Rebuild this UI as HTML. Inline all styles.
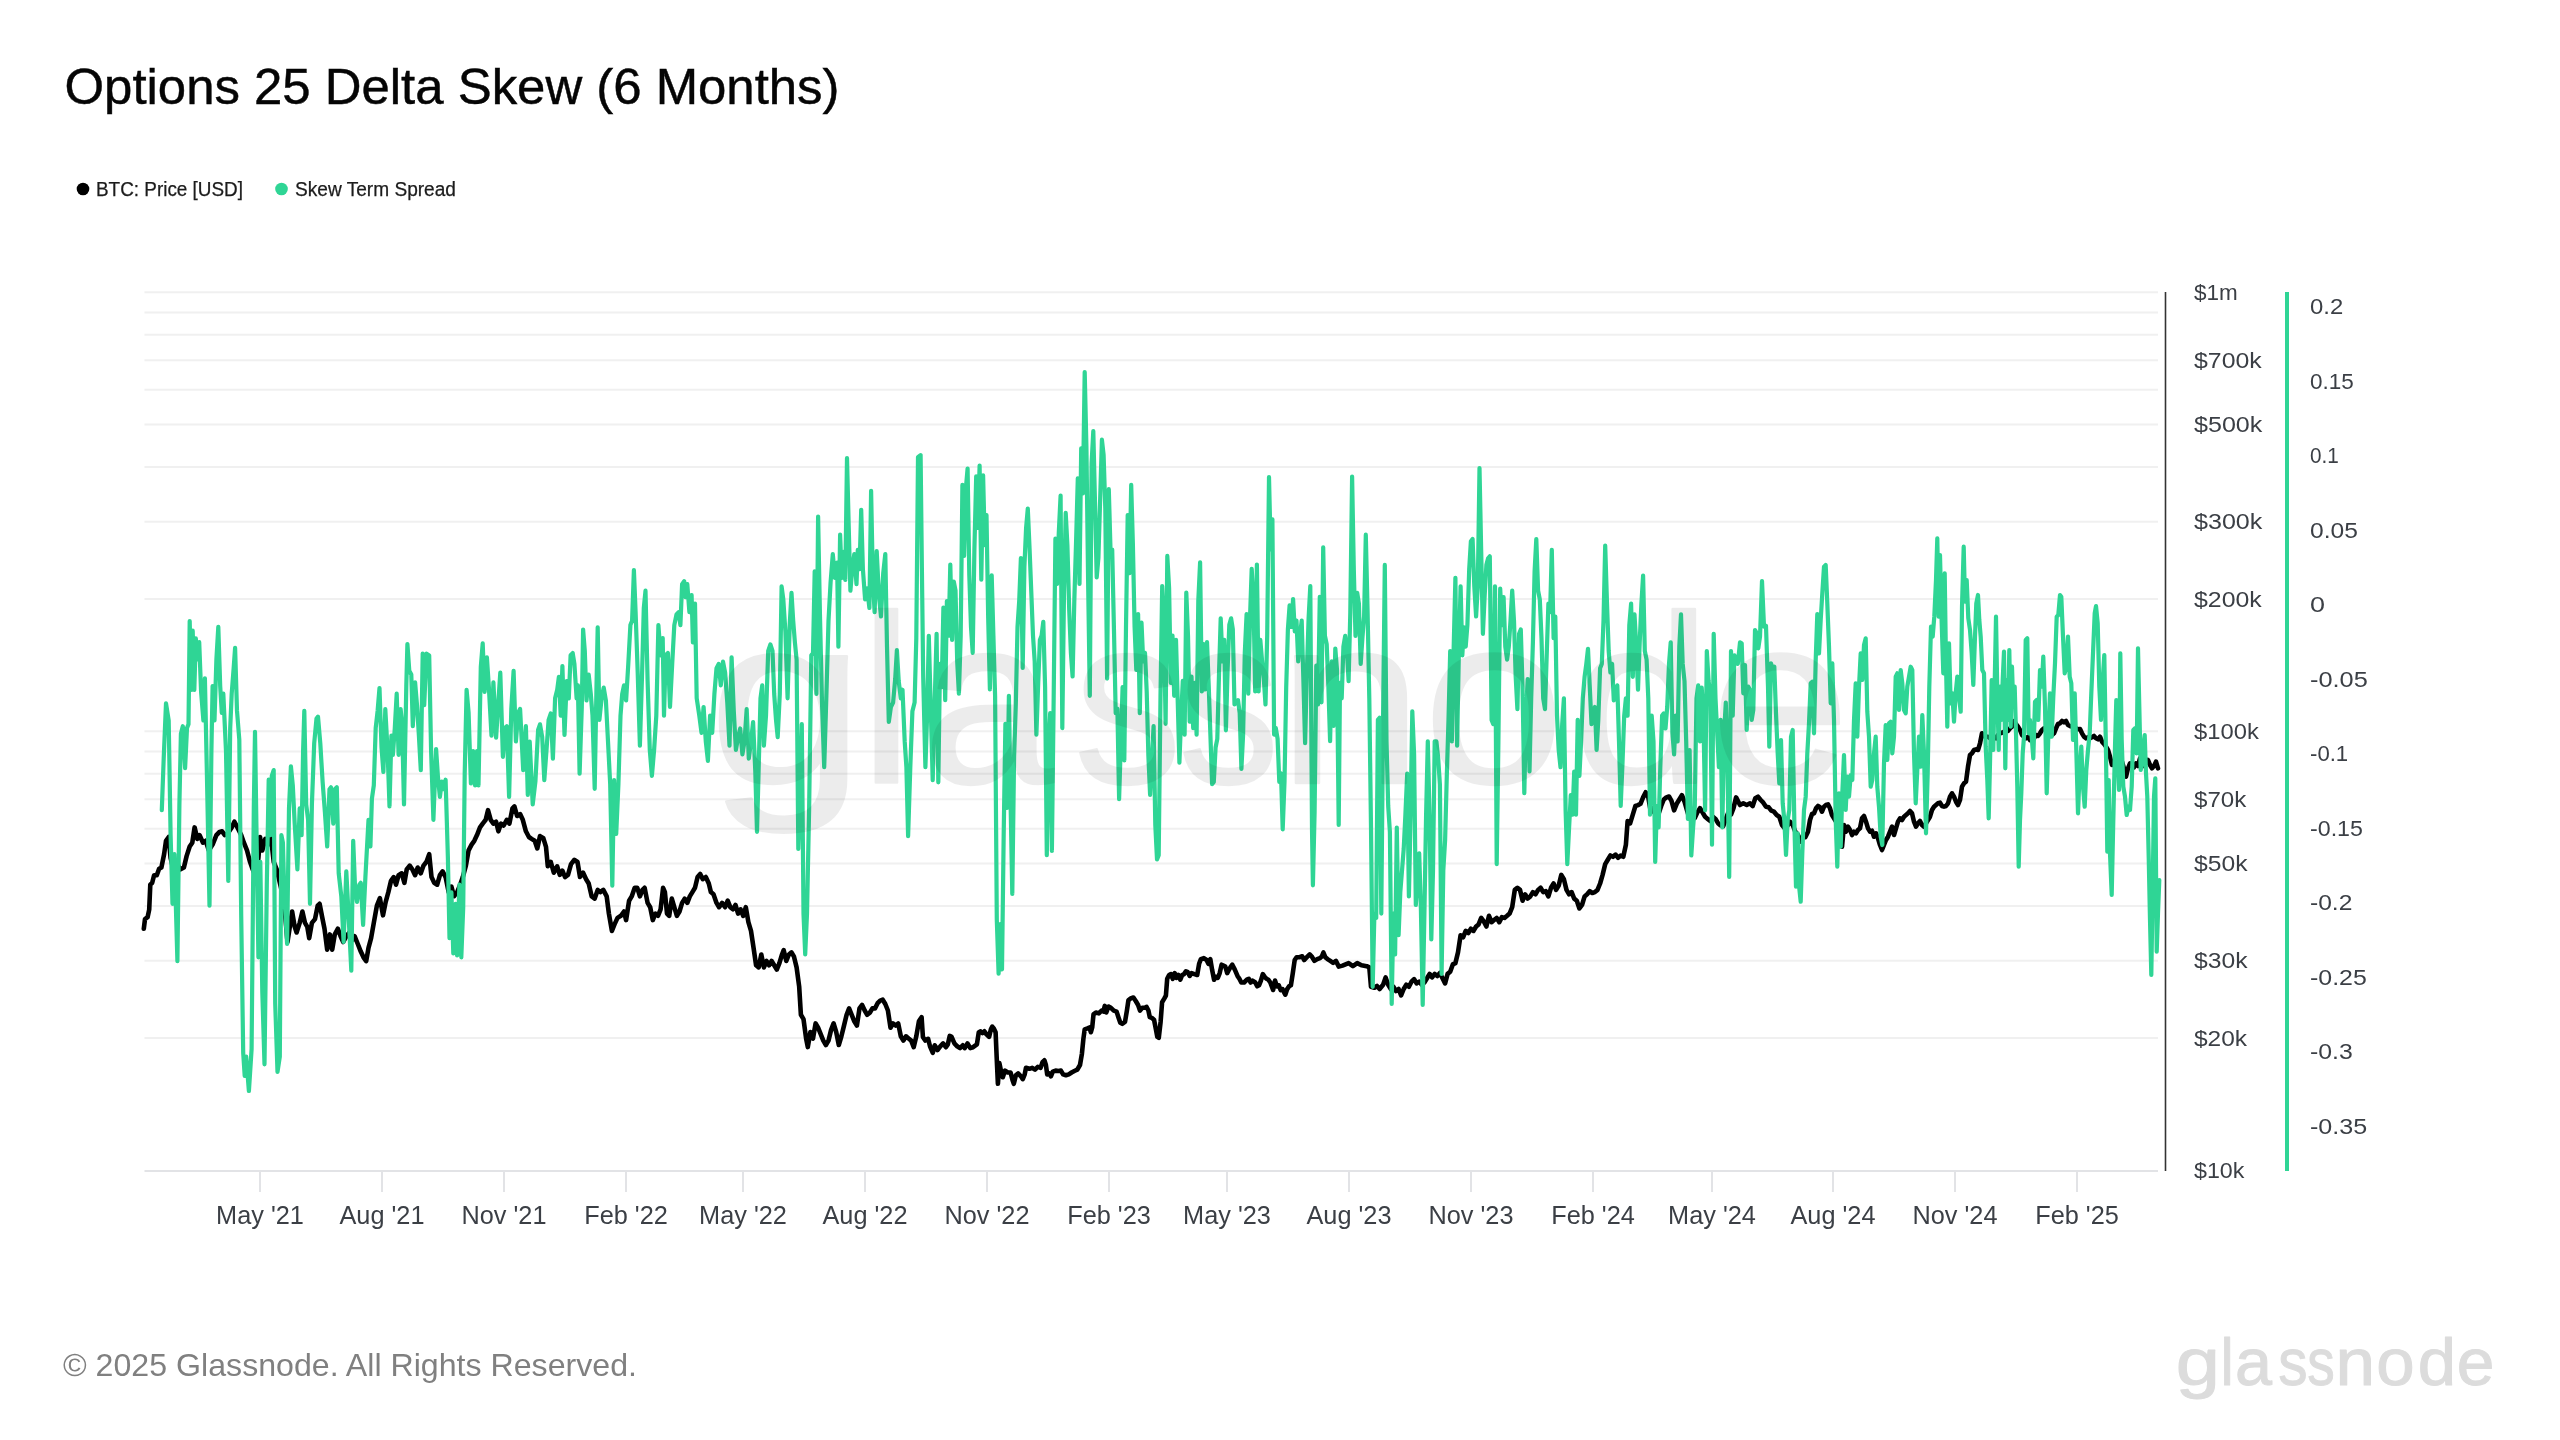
<!DOCTYPE html>
<html><head><meta charset="utf-8"><title>Options 25 Delta Skew (6 Months)</title>
<style>
html,body{margin:0;padding:0;background:#fff;}
body{width:2560px;height:1440px;overflow:hidden;position:relative;font-family:"Liberation Sans",sans-serif;}
svg{position:absolute;left:0;top:0;will-change:transform;}
text{font-family:"Liberation Sans",sans-serif;}
</style></head><body>
<svg width="2560" height="1440" viewBox="0 0 2560 1440">
<rect width="2560" height="1440" fill="#fff"/>
<text x="64.5" y="104" font-size="49.5" fill="#050505" stroke="#050505" stroke-width="0.45" textLength="775" lengthAdjust="spacingAndGlyphs">Options 25 Delta Skew (6 Months)</text>
<circle cx="83" cy="189" r="6.3" fill="#000"/>
<text x="96" y="196" font-size="19.5" fill="#1c1c1c" stroke="#1c1c1c" stroke-width="0.25" textLength="147" lengthAdjust="spacingAndGlyphs">BTC: Price [USD]</text>
<circle cx="281.5" cy="189" r="6.3" fill="#2fd595"/>
<text x="295" y="196" font-size="19.5" fill="#1c1c1c" stroke="#1c1c1c" stroke-width="0.25" textLength="161" lengthAdjust="spacingAndGlyphs">Skew Term Spread</text>
<g stroke="#f0f0f0" stroke-width="2"><line x1="144.5" x2="2158" y1="1038.1" y2="1038.1"/><line x1="144.5" x2="2158" y1="960.8" y2="960.8"/><line x1="144.5" x2="2158" y1="906.0" y2="906.0"/><line x1="144.5" x2="2158" y1="863.5" y2="863.5"/><line x1="144.5" x2="2158" y1="828.7" y2="828.7"/><line x1="144.5" x2="2158" y1="799.3" y2="799.3"/><line x1="144.5" x2="2158" y1="773.8" y2="773.8"/><line x1="144.5" x2="2158" y1="751.4" y2="751.4"/><line x1="144.5" x2="2158" y1="731.3" y2="731.3"/><line x1="144.5" x2="2158" y1="599.1" y2="599.1"/><line x1="144.5" x2="2158" y1="521.8" y2="521.8"/><line x1="144.5" x2="2158" y1="467.0" y2="467.0"/><line x1="144.5" x2="2158" y1="424.5" y2="424.5"/><line x1="144.5" x2="2158" y1="389.7" y2="389.7"/><line x1="144.5" x2="2158" y1="360.3" y2="360.3"/><line x1="144.5" x2="2158" y1="334.8" y2="334.8"/><line x1="144.5" x2="2158" y1="312.4" y2="312.4"/><line x1="144.5" x2="2158" y1="292.3" y2="292.3"/></g>
<line x1="144.5" x2="2158" y1="1171" y2="1171" stroke="#e2e3e6" stroke-width="2"/>
<g stroke="#e2e3e6" stroke-width="2"><line x1="260" x2="260" y1="1171" y2="1192"/><line x1="382" x2="382" y1="1171" y2="1192"/><line x1="504" x2="504" y1="1171" y2="1192"/><line x1="626" x2="626" y1="1171" y2="1192"/><line x1="743" x2="743" y1="1171" y2="1192"/><line x1="865" x2="865" y1="1171" y2="1192"/><line x1="987" x2="987" y1="1171" y2="1192"/><line x1="1109" x2="1109" y1="1171" y2="1192"/><line x1="1227" x2="1227" y1="1171" y2="1192"/><line x1="1349" x2="1349" y1="1171" y2="1192"/><line x1="1471" x2="1471" y1="1171" y2="1192"/><line x1="1593" x2="1593" y1="1171" y2="1192"/><line x1="1712" x2="1712" y1="1171" y2="1192"/><line x1="1833" x2="1833" y1="1171" y2="1192"/><line x1="1955" x2="1955" y1="1171" y2="1192"/><line x1="2077" x2="2077" y1="1171" y2="1192"/></g>
<polyline fill="none" stroke="#000" stroke-width="4.6" stroke-linejoin="round" stroke-linecap="round" points="143.8,928.7 145.0,919.1 147.6,917.2 149.2,909.6 150.3,884.7 152.2,882.8 154.1,875.2 156.8,875.2 159.1,868.7 161.4,867.5 164.1,854.2 166.0,840.8 168.7,837.0 170.6,858.0 172.5,865.6 176.3,861.8 180.1,869.5 183.9,867.5 186.6,856.1 189.7,846.5 192.3,842.7 194.6,827.4 197.3,838.9 199.6,835.1 203.0,842.7 205.7,840.8 208.8,850.4 212.6,844.6 216.4,835.1 219.5,832.0 222.1,831.3 224.8,835.1 227.9,833.2 231.7,827.4 234.4,821.7 237.4,827.4 241.2,835.1 243.9,842.7 247.0,850.4 250.0,861.8 252.7,869.5 255.8,877.1 258.4,858.0 260.0,837.0 262.3,850.4 265.3,838.9 268.0,844.6 270.7,835.1 273.7,861.8 276.8,869.5 279.4,880.9 282.1,892.4 285.2,915.3 287.5,942.0 289.8,926.8 292.1,911.5 294.7,926.8 296.6,932.5 299.7,922.9 302.4,911.5 305.0,922.9 307.3,926.8 309.2,938.2 311.9,922.9 315.0,919.1 317.7,905.7 319.6,903.8 322.2,917.2 324.5,928.7 327.2,949.7 329.9,934.4 332.2,949.7 334.8,934.4 337.9,928.7 340.6,936.3 343.2,942.0 346.3,936.3 349.4,932.5 352.0,940.1 354.7,936.3 357.8,944.0 360.8,951.6 363.5,957.3 366.2,961.1 368.5,947.8 371.1,938.2 373.8,922.9 376.9,905.7 379.9,898.1 383.0,915.3 385.7,901.9 388.3,892.4 391.0,880.9 393.7,877.1 396.0,884.7 398.6,875.2 401.7,873.3 404.4,882.8 406.7,869.5 409.7,865.6 412.4,869.5 415.1,875.2 417.7,867.5 420.8,873.3 423.5,865.6 426.5,861.8 429.2,854.2 431.5,877.1 434.2,882.8 437.2,884.7 439.9,875.2 442.6,871.4 445.6,877.1 448.7,892.4 451.4,886.6 454.0,896.2 457.1,892.4 460.2,884.7 462.8,877.1 465.9,865.6 468.6,850.4 471.6,844.6 474.3,840.8 477.0,835.1 480.0,827.4 482.7,823.6 485.7,819.8 488.0,810.2 490.7,819.8 493.4,823.6 496.1,821.7 498.4,831.3 501.0,823.6 503.7,825.5 506.8,819.8 509.4,823.6 512.5,808.3 514.4,806.4 517.1,816.0 520.1,814.1 522.8,819.8 525.9,831.3 528.9,837.0 531.6,838.9 534.7,840.8 537.3,848.4 540.0,836.1 543.4,838.3 546.0,846.9 547.8,866.3 550.8,862.0 553.8,872.7 557.2,866.3 559.8,874.9 562.4,870.6 565.0,877.0 568.0,874.9 571.0,864.1 574.4,859.8 577.5,862.0 580.0,877.0 583.1,872.7 586.1,879.2 588.7,883.5 591.7,896.4 594.7,898.6 597.7,889.9 600.3,892.1 603.3,889.9 606.7,896.4 608.9,913.6 611.9,930.9 614.5,924.4 617.5,917.9 620.9,915.8 624.0,911.5 626.1,920.1 629.1,900.7 631.7,896.4 634.7,887.8 637.3,887.8 639.9,896.4 642.5,889.9 644.6,887.8 647.6,902.9 650.2,907.2 652.8,920.1 655.4,913.6 658.0,915.8 660.6,909.3 663.1,887.8 664.9,892.1 667.0,913.6 669.2,915.8 671.8,898.6 674.3,907.2 676.9,915.8 679.5,911.5 682.1,902.9 684.7,898.6 687.3,902.9 689.8,896.4 692.4,892.1 695.0,887.8 697.6,877.0 700.2,874.0 702.8,879.2 705.8,877.0 708.8,883.5 710.9,892.1 713.5,894.3 716.5,902.9 719.1,907.2 722.1,902.9 725.1,907.2 727.7,900.7 730.3,907.2 732.9,909.3 735.5,905.0 738.1,913.6 740.6,909.3 743.2,915.8 745.8,907.2 748.4,922.2 751.0,930.9 753.6,948.1 756.1,965.3 758.7,967.4 761.3,954.5 763.9,967.4 766.5,961.0 769.1,965.3 771.6,961.0 774.2,965.3 776.8,969.6 779.4,963.1 782.0,954.5 783.7,950.2 786.3,961.0 788.9,954.5 791.5,952.4 794.0,956.7 796.6,967.4 799.2,986.8 800.9,1014.8 803.5,1019.1 806.1,1038.5 807.8,1047.1 810.4,1032.0 813.0,1038.5 815.6,1023.4 818.1,1027.7 820.7,1034.2 823.3,1040.6 825.9,1045.0 828.5,1040.6 831.1,1029.9 833.6,1023.4 836.2,1032.0 838.8,1045.0 841.4,1036.3 844.0,1025.6 846.6,1014.8 849.1,1008.4 851.7,1014.8 854.3,1021.3 856.9,1025.6 859.5,1008.4 862.1,1004.9 864.7,1010.5 867.2,1014.8 869.8,1012.7 872.4,1008.4 875.0,1008.4 877.6,1003.2 880.2,1000.6 882.7,999.7 885.3,1004.0 887.9,1010.5 890.5,1027.7 893.1,1023.4 895.7,1025.6 898.2,1023.4 900.8,1036.3 903.4,1040.6 906.0,1036.3 908.6,1038.5 911.2,1040.6 913.7,1047.1 916.3,1036.3 918.9,1021.3 921.6,1017.2 922.9,1036.9 925.3,1040.6 928.1,1038.8 930.0,1046.3 932.8,1052.8 934.7,1045.3 937.5,1050.0 940.3,1046.3 943.1,1043.4 945.9,1047.2 947.8,1044.4 949.7,1035.9 951.6,1036.9 954.4,1043.4 957.2,1046.3 960.0,1048.1 962.8,1045.3 964.7,1048.1 967.5,1043.4 970.3,1048.1 973.1,1047.2 976.9,1044.4 978.8,1032.2 980.6,1031.3 982.5,1033.1 984.4,1031.3 986.3,1034.1 989.1,1036.9 990.9,1029.4 992.3,1026.6 993.8,1028.4 995.6,1032.2 996.6,1055.6 997.9,1083.8 999.4,1063.1 1001.3,1072.5 1002.8,1077.2 1005.0,1070.6 1007.8,1072.5 1010.6,1072.5 1012.5,1080.0 1013.8,1083.8 1015.9,1075.3 1018.1,1073.4 1020.9,1076.3 1022.8,1079.1 1024.7,1074.4 1026.0,1067.8 1029.4,1068.8 1032.2,1067.8 1035.0,1069.7 1037.8,1066.9 1040.6,1067.8 1042.5,1062.2 1044.4,1060.3 1045.9,1065.0 1047.2,1074.4 1049.1,1073.4 1050.9,1076.3 1052.8,1071.6 1055.6,1070.6 1058.4,1071.0 1060.9,1070.6 1063.1,1074.4 1065.9,1075.3 1068.8,1074.4 1071.6,1072.5 1074.4,1071.0 1077.2,1069.7 1080.0,1065.0 1081.9,1053.8 1083.4,1038.8 1084.7,1029.4 1087.5,1028.4 1089.4,1027.5 1090.9,1032.2 1092.2,1027.5 1093.5,1014.4 1095.9,1012.5 1098.8,1013.4 1101.6,1010.6 1103.4,1011.6 1104.8,1005.9 1106.3,1012.5 1108.5,1006.5 1110.9,1007.8 1113.8,1010.6 1116.6,1011.6 1118.4,1017.2 1120.3,1022.8 1122.2,1023.8 1125.0,1021.9 1126.9,1010.6 1128.4,1000.3 1130.6,998.4 1133.4,997.5 1135.9,1001.3 1138.1,1005.0 1140.0,1010.6 1142.3,1007.8 1144.7,1007.8 1146.6,1006.9 1148.4,1010.6 1149.8,1017.2 1152.2,1018.1 1154.1,1020.0 1155.9,1029.4 1157.3,1036.9 1158.8,1037.8 1160.6,1021.9 1162.1,1002.2 1164.4,998.4 1165.9,995.6 1167.2,978.8 1169.1,975.0 1170.9,974.1 1172.8,978.8 1174.7,973.1 1176.6,977.8 1178.4,975.0 1180.3,979.7 1182.2,975.0 1184.1,974.1 1185.9,971.3 1187.8,972.2 1189.7,975.9 1191.6,973.1 1194.4,974.1 1197.2,975.0 1199.1,963.8 1200.9,959.1 1203.8,958.1 1206.6,960.0 1208.4,963.8 1210.3,959.1 1212.2,970.3 1214.1,979.7 1215.9,976.9 1217.8,977.8 1219.7,973.1 1221.6,964.7 1223.4,965.6 1225.3,966.6 1227.2,973.1 1229.1,969.4 1230.9,966.6 1232.3,964.7 1234.7,969.4 1237.5,975.9 1239.4,978.8 1241.3,982.5 1244.1,982.5 1246.9,979.7 1248.8,978.8 1250.6,982.5 1252.5,980.6 1255.3,982.5 1257.2,986.3 1259.1,985.3 1260.9,980.6 1262.8,974.1 1264.7,976.9 1266.6,978.8 1268.4,979.7 1270.3,982.5 1273.1,990.0 1275.0,980.6 1276.9,986.3 1278.8,985.3 1280.6,990.0 1282.5,989.1 1285.3,994.7 1287.2,989.1 1289.1,986.3 1290.9,985.3 1292.8,973.1 1294.7,960.0 1296.6,957.2 1299.4,957.2 1302.2,956.3 1304.1,960.0 1306.9,957.2 1309.7,954.4 1311.6,956.3 1314.4,960.9 1317.2,959.1 1320.0,958.1 1321.9,956.3 1323.4,952.5 1325.3,957.2 1327.5,959.1 1330.3,960.9 1333.1,962.8 1335.9,960.9 1338.8,966.6 1342.5,965.6 1348.6,963.1 1352.9,966.2 1357.2,963.1 1361.5,965.3 1366.7,966.2 1369.3,967.4 1371.0,986.8 1374.4,987.7 1377.0,986.0 1379.6,989.0 1383.1,984.7 1385.6,977.4 1388.2,984.7 1390.8,989.0 1393.4,986.8 1396.0,991.1 1398.6,989.0 1401.1,995.4 1403.7,989.0 1406.3,984.7 1408.9,986.8 1411.5,981.7 1414.1,979.1 1416.6,983.4 1419.2,981.7 1421.8,984.7 1424.4,982.5 1427.0,978.2 1429.6,973.9 1432.1,977.4 1434.7,973.9 1437.3,976.1 1439.9,973.0 1442.5,978.2 1445.1,983.4 1447.6,973.9 1450.2,971.8 1452.8,964.4 1455.4,963.1 1458.0,952.4 1460.6,935.2 1463.1,937.3 1465.7,930.9 1468.3,933.0 1470.9,928.7 1473.5,930.9 1476.1,926.5 1478.6,924.4 1481.2,917.9 1483.8,921.4 1486.4,926.5 1489.0,915.8 1491.6,922.2 1494.1,920.1 1496.7,917.9 1499.3,922.2 1501.9,917.1 1504.5,917.9 1507.1,915.8 1509.6,913.6 1512.2,907.2 1514.8,889.9 1517.4,887.8 1520.0,889.9 1522.6,900.7 1525.1,894.3 1527.7,898.6 1530.3,896.4 1532.9,892.1 1535.5,894.3 1538.1,889.9 1540.6,887.8 1543.2,892.1 1545.8,891.2 1548.4,896.4 1551.0,887.8 1553.6,883.5 1556.1,889.9 1558.7,885.6 1561.3,874.9 1563.9,879.2 1566.5,889.9 1569.1,894.3 1571.6,892.1 1574.2,898.6 1576.8,900.7 1579.4,908.5 1582.0,905.0 1584.6,896.4 1587.1,894.3 1589.7,891.2 1592.3,893.0 1594.9,892.1 1597.5,889.9 1600.1,883.5 1602.6,874.9 1605.2,864.1 1607.8,859.8 1610.4,855.5 1613.0,856.8 1615.6,854.6 1618.1,857.7 1620.7,855.5 1623.3,856.8 1625.9,844.7 1627.6,821.1 1630.2,823.2 1632.8,814.6 1635.4,806.0 1638.0,805.1 1640.5,803.8 1643.1,797.4 1645.7,792.2 1648.3,797.4 1650.9,812.4 1653.5,808.1 1656.0,810.3 1658.6,813.7 1661.2,806.0 1663.8,799.5 1666.4,797.4 1669.0,796.5 1671.5,800.8 1674.1,810.3 1676.7,803.8 1679.3,799.5 1681.9,795.2 1684.5,801.7 1687.0,810.3 1689.6,818.9 1692.2,814.6 1694.8,818.0 1697.4,812.4 1700.0,808.1 1702.5,812.4 1705.1,816.7 1707.7,818.9 1710.3,821.1 1712.9,816.7 1715.5,818.9 1718.0,823.2 1720.6,825.4 1723.2,826.2 1725.8,818.9 1728.4,812.4 1731.0,814.6 1733.5,808.1 1736.1,797.4 1740.0,805.0 1743.3,803.3 1746.7,805.0 1750.0,803.3 1752.7,806.0 1755.3,798.3 1758.0,796.7 1760.7,800.0 1763.3,802.7 1766.0,806.7 1768.7,807.3 1771.3,810.7 1774.0,811.7 1776.7,815.0 1779.3,816.7 1782.0,825.0 1784.7,828.3 1787.3,826.0 1790.0,821.7 1792.7,825.0 1795.3,831.7 1798.0,835.0 1800.0,841.7 1802.7,836.7 1805.3,837.3 1808.0,831.7 1810.0,820.0 1812.0,814.0 1814.0,813.3 1816.0,808.3 1818.0,806.0 1820.0,807.3 1822.0,811.7 1824.0,806.7 1826.0,805.0 1828.0,804.3 1830.0,808.3 1832.0,815.0 1834.0,818.3 1836.0,821.7 1838.0,825.0 1840.0,831.7 1842.0,846.7 1844.0,825.0 1846.0,831.7 1848.0,826.7 1850.0,830.0 1852.0,835.0 1854.0,831.7 1856.0,833.3 1858.0,830.0 1860.0,828.3 1862.0,818.3 1864.0,816.0 1866.0,821.7 1868.0,828.3 1870.0,831.7 1872.0,830.7 1874.0,836.7 1876.0,833.3 1878.0,838.3 1880.0,845.0 1882.0,850.0 1884.0,845.0 1886.0,840.0 1888.0,836.7 1890.0,831.7 1892.0,826.7 1894.0,835.0 1896.0,828.3 1898.0,821.7 1900.0,818.3 1902.0,820.0 1904.0,816.7 1906.0,815.0 1908.0,813.3 1910.0,811.0 1912.0,813.3 1914.0,821.7 1916.0,826.7 1918.0,823.3 1920.0,821.0 1922.0,825.0 1924.0,826.7 1926.0,823.3 1928.0,820.0 1930.0,816.7 1932.0,810.0 1934.0,806.7 1936.0,805.0 1938.0,803.3 1940.0,802.7 1942.0,806.0 1944.0,806.7 1946.0,806.0 1948.0,803.3 1950.0,796.7 1952.0,793.3 1954.0,796.7 1956.0,801.7 1958.0,805.0 1960.0,800.0 1962.0,786.7 1964.0,783.3 1966.0,781.7 1968.0,766.7 1970.0,755.0 1972.0,753.3 1974.0,750.0 1976.0,749.3 1978.0,750.0 1980.0,743.3 1982.0,733.3 1984.0,736.0 1986.0,736.7 1988.0,736.7 1990.0,738.3 1992.0,736.0 1994.0,736.7 1996.0,738.3 1998.0,735.0 2000.0,733.3 2002.0,732.7 2004.0,731.7 2006.0,730.0 2008.0,731.0 2010.0,728.3 2012.0,726.7 2014.0,721.0 2016.0,724.0 2018.0,726.7 2020.0,730.0 2022.0,735.0 2024.0,736.7 2026.0,738.3 2028.0,736.7 2030.0,740.0 2032.0,736.7 2034.0,738.3 2036.0,735.0 2038.0,736.0 2040.0,733.3 2042.0,730.0 2044.0,728.3 2046.0,729.3 2048.0,730.7 2050.0,733.3 2052.0,735.0 2054.0,733.3 2056.0,728.3 2058.0,724.0 2060.0,723.3 2062.0,721.0 2064.0,722.3 2066.0,721.0 2068.0,725.0 2070.0,726.0 2072.0,726.7 2074.0,727.3 2076.0,728.3 2078.0,729.3 2080.0,729.0 2082.0,733.3 2084.0,736.7 2086.0,738.3 2088.0,737.3 2090.0,738.3 2092.0,737.3 2094.0,736.0 2096.0,738.3 2098.0,739.3 2100.0,736.7 2102.0,741.7 2104.0,744.0 2106.0,746.7 2108.0,750.0 2110.0,756.7 2112.0,765.0 2114.0,763.3 2116.0,761.7 2118.0,758.3 2120.0,760.0 2122.0,761.7 2124.0,768.3 2126.0,776.7 2128.0,768.3 2130.0,763.3 2132.0,766.0 2134.0,767.3 2136.0,763.3 2138.0,766.0 2140.0,758.3 2142.0,765.0 2144.0,766.0 2146.0,762.7 2148.0,760.0 2150.0,765.0 2152.0,768.3 2154.0,766.0 2156.0,761.7 2158.0,768.3"/>
<polyline fill="none" stroke="#2fd595" stroke-width="4.2" stroke-linejoin="round" stroke-linecap="round" points="161.8,810.2 163.7,758.7 166.0,703.3 168.7,720.5 170.6,835.1 172.5,903.8 174.4,854.2 177.4,961.1 179.4,804.5 180.9,733.8 182.8,726.2 185.1,768.2 187.0,728.1 188.5,724.3 189.7,621.1 191.2,689.9 192.7,630.7 194.3,689.9 195.8,638.3 197.3,659.3 199.2,642.1 201.1,691.8 203.4,720.5 204.9,678.4 206.9,773.9 209.5,905.7 211.4,751.0 212.6,686.1 214.5,720.5 216.4,659.3 218.3,626.9 220.2,686.1 221.8,712.8 223.3,693.7 226.0,751.0 228.3,880.9 230.2,728.1 231.7,693.7 233.6,668.9 235.1,647.9 237.0,710.9 239.3,739.6 241.2,915.3 243.2,1052.8 244.7,1075.8 246.2,1056.7 248.9,1091.0 251.6,1049.0 253.8,808.3 255.0,731.9 256.9,858.0 258.4,957.3 260.3,861.8 262.3,991.7 264.5,1064.3 266.8,884.7 268.7,779.7 270.3,835.1 271.8,775.9 273.7,770.1 275.2,1003.2 277.5,1071.9 279.8,1056.7 281.4,835.1 282.9,842.7 284.4,896.2 287.1,944.0 289.0,808.3 290.9,766.3 292.8,785.4 294.7,823.6 297.4,869.5 299.7,808.3 301.6,835.1 303.1,751.0 304.3,710.9 306.2,804.5 308.1,819.8 310.0,903.8 311.9,804.5 314.2,743.4 316.5,718.5 318.0,716.6 320.3,743.4 322.6,781.6 324.9,812.1 327.2,846.5 329.5,789.2 331.0,787.3 333.3,823.6 334.8,789.2 336.8,787.3 338.7,873.3 341.3,896.2 343.6,942.0 346.3,871.4 348.2,907.7 351.3,970.7 353.2,840.8 355.1,888.6 357.0,901.9 359.3,884.7 360.8,882.8 363.1,924.9 365.4,877.1 368.5,819.8 370.4,846.5 371.9,798.8 373.8,785.4 375.7,728.1 377.6,710.9 379.5,688.0 381.5,747.2 383.4,772.0 385.3,709.0 387.6,751.0 389.5,806.4 391.4,735.7 392.9,754.8 394.8,728.1 396.7,693.7 398.6,754.8 400.6,709.0 402.1,724.3 404.0,804.5 406.3,686.1 407.4,644.0 409.3,670.8 411.3,674.6 412.8,726.2 415.1,682.3 417.0,705.2 418.9,735.7 420.8,770.1 422.7,653.6 424.2,705.2 426.5,653.6 429.2,655.5 431.1,751.0 433.4,819.8 436.1,749.1 438.0,777.8 439.9,796.9 441.8,781.6 443.7,789.2 445.6,779.7 447.9,858.0 449.5,938.2 451.4,892.4 453.3,953.5 455.6,903.8 457.1,955.4 459.4,884.7 461.3,957.3 463.2,907.7 464.7,773.9 466.6,689.9 468.6,712.8 470.9,783.5 473.1,751.0 475.1,785.4 477.0,751.0 478.5,785.4 480.8,667.0 482.7,643.3 484.6,691.8 486.9,657.4 488.8,686.1 491.5,735.7 493.4,682.3 496.1,737.7 498.4,701.4 500.3,672.7 502.9,756.8 504.9,728.1 506.8,726.2 509.1,796.9 511.3,709.0 513.6,670.8 515.9,741.5 518.2,712.8 520.1,709.0 523.2,770.1 525.9,726.2 527.8,795.0 529.7,741.5 532.7,804.5 535.4,781.6 538.1,730.0 540.0,724.3 542.2,737.1 544.3,780.2 546.5,750.0 548.6,719.9 550.8,713.4 552.9,758.6 555.1,698.3 557.2,689.7 558.9,676.8 560.7,715.6 562.4,666.0 564.5,734.9 566.7,681.1 568.8,698.3 570.6,655.3 572.7,653.1 574.4,663.9 576.6,698.3 577.9,685.4 579.6,773.7 581.8,707.0 583.1,629.5 584.8,651.0 586.5,700.5 588.7,674.7 590.8,694.0 592.5,715.6 594.7,788.8 596.4,691.9 597.7,627.3 599.4,719.9 601.6,698.3 603.7,687.6 605.9,700.5 608.0,741.4 610.2,784.5 612.3,885.6 614.1,780.2 616.2,834.0 618.4,784.5 620.5,715.6 622.2,694.0 624.0,685.4 626.1,700.5 628.3,663.9 630.4,625.1 632.1,620.8 633.9,570.0 635.6,612.2 637.7,672.5 639.9,745.7 642.0,676.8 643.8,607.9 645.5,590.7 647.6,681.1 649.8,750.0 651.9,775.8 654.1,750.0 656.3,715.6 658.4,625.1 660.6,655.3 662.7,638.1 664.0,715.6 665.7,655.3 667.9,653.1 670.0,707.0 672.2,663.9 674.3,625.1 676.5,614.4 678.6,612.2 680.4,625.1 682.1,584.2 684.2,581.2 685.5,597.2 687.3,584.2 689.4,612.2 691.6,595.0 692.9,642.4 695.0,603.6 696.7,698.3 699.3,715.6 701.5,732.8 703.6,707.0 705.8,741.4 707.9,760.8 710.1,715.6 712.2,732.8 714.4,694.0 716.5,668.2 718.7,663.9 720.8,685.4 723.0,661.7 725.1,672.5 727.3,702.6 729.5,745.7 731.6,657.4 733.8,711.3 735.9,750.0 738.1,737.1 740.2,728.5 742.4,754.3 744.5,741.4 746.7,709.1 748.8,758.6 751.0,741.4 753.1,722.0 755.3,771.5 757.0,831.8 758.7,767.2 760.5,698.3 762.2,685.4 763.9,745.7 766.0,715.6 768.2,651.0 770.4,644.5 772.5,651.0 774.2,694.0 776.0,719.9 777.7,737.1 779.8,694.0 781.6,586.4 783.3,599.3 785.4,631.6 787.6,698.3 789.7,625.1 791.5,592.9 793.2,620.8 794.9,642.4 796.6,659.6 798.3,849.0 800.1,793.1 801.8,724.2 803.5,913.6 805.2,954.5 807.0,913.6 809.1,810.3 811.3,655.3 813.0,653.1 814.7,571.3 816.4,694.0 818.1,516.6 819.9,612.2 822.0,702.6 824.2,767.2 826.3,698.3 828.5,620.8 830.6,582.1 832.8,554.1 834.9,577.8 837.1,562.7 838.4,646.7 840.1,534.7 841.8,577.8 843.6,551.9 845.3,579.9 847.0,458.1 848.7,526.1 850.4,590.7 852.2,569.2 854.3,554.1 856.5,584.2 857.8,549.8 859.5,569.2 861.2,509.8 862.9,569.2 865.1,599.3 867.2,588.5 869.4,607.9 871.1,490.8 872.8,577.8 874.6,612.2 876.7,551.1 878.9,595.0 881.0,616.5 883.2,573.5 885.3,554.1 887.0,646.7 888.8,722.0 890.9,707.0 893.1,702.6 895.2,679.0 896.9,650.1 898.7,681.1 900.8,698.3 902.5,689.7 904.7,741.4 906.4,767.2 908.1,836.1 910.3,767.2 912.4,711.3 914.6,702.6 916.3,638.1 918.0,457.2 920.6,455.1 921.9,569.2 923.2,676.8 925.4,767.2 927.1,715.6 928.8,635.9 930.5,698.3 932.7,780.2 934.8,698.3 936.6,633.8 938.3,782.3 940.0,663.9 941.7,687.2 943.4,607.6 945.2,700.2 946.9,601.1 948.6,635.6 950.3,564.5 952.1,639.9 953.8,581.7 955.5,590.4 957.2,661.4 958.9,693.7 960.7,635.6 962.4,484.9 964.1,555.9 965.8,489.2 967.6,468.5 969.3,575.3 971.0,627.0 972.7,652.8 974.4,549.5 976.2,476.3 977.9,527.9 979.6,465.5 981.3,579.6 983.1,475.4 984.8,545.1 986.5,515.0 988.2,618.3 989.9,689.4 991.7,575.3 993.4,635.6 995.1,695.8 996.8,919.7 998.6,973.6 1000.3,924.0 1002.0,969.3 1003.7,833.6 1005.4,723.8 1007.2,807.8 1008.9,695.8 1010.6,803.5 1012.3,893.9 1014.1,756.1 1015.8,704.5 1017.5,627.0 1019.2,601.1 1020.9,558.1 1022.7,667.9 1024.4,566.7 1026.1,527.9 1027.8,508.5 1029.6,549.5 1031.3,592.5 1033.0,635.6 1034.7,661.4 1036.4,734.6 1038.2,682.9 1039.9,639.9 1041.6,635.6 1043.3,621.8 1045.1,687.2 1046.8,855.2 1048.5,747.5 1050.2,713.1 1051.9,850.9 1053.7,695.8 1055.4,538.7 1057.1,583.9 1058.8,532.2 1060.6,495.6 1062.3,728.1 1064.0,592.5 1065.7,512.9 1067.4,545.1 1069.2,609.7 1070.9,652.8 1072.6,676.5 1074.3,601.1 1076.1,540.8 1077.8,478.4 1079.5,583.9 1081.2,448.3 1082.9,493.5 1084.7,372.1 1086.4,446.1 1088.1,579.6 1089.8,695.8 1091.6,463.3 1093.3,431.0 1095.0,502.1 1096.7,577.4 1098.4,558.1 1100.2,497.8 1101.9,439.7 1103.6,454.7 1105.3,508.5 1107.1,678.6 1108.8,489.2 1110.5,549.5 1112.2,549.5 1114.0,631.3 1115.7,713.1 1117.4,708.8 1119.1,799.2 1120.8,743.2 1122.6,687.2 1124.3,760.4 1126.0,627.0 1127.7,515.0 1129.5,573.1 1131.2,484.9 1132.9,545.1 1134.6,627.0 1136.3,670.0 1138.1,614.0 1139.8,713.1 1141.5,622.6 1143.2,661.4 1145.0,652.8 1146.7,691.5 1148.4,756.1 1150.1,794.9 1151.8,760.4 1153.6,726.0 1155.3,825.0 1157.0,859.5 1158.7,855.2 1160.5,695.8 1162.2,586.0 1163.9,622.6 1165.6,723.8 1167.3,555.9 1169.1,588.2 1170.8,682.9 1172.5,635.6 1174.2,695.8 1176.0,639.9 1177.7,700.2 1179.4,762.6 1181.1,717.4 1182.8,680.8 1184.6,734.6 1186.3,592.5 1188.0,635.6 1189.7,721.7 1191.5,676.5 1193.2,728.1 1194.9,682.9 1196.6,734.6 1198.3,601.1 1200.1,562.4 1201.8,691.5 1203.5,644.2 1205.2,689.4 1207.0,642.0 1208.7,685.1 1210.4,734.6 1212.1,784.1 1213.8,782.0 1215.6,747.5 1217.3,738.9 1219.0,674.3 1220.7,618.3 1222.5,661.4 1224.2,639.9 1225.9,730.3 1227.6,670.0 1229.3,624.8 1231.1,618.3 1232.8,629.1 1234.5,704.5 1236.2,702.3 1238.0,700.2 1239.7,713.1 1241.4,769.0 1243.1,734.6 1244.8,652.8 1246.6,614.0 1248.3,693.7 1250.0,618.3 1251.7,568.8 1253.5,601.1 1255.2,691.5 1256.9,564.5 1258.6,691.5 1260.3,639.9 1262.1,661.4 1263.8,678.6 1265.5,704.5 1267.2,635.6 1269.0,477.1 1270.7,549.5 1272.4,519.3 1274.1,734.6 1275.8,728.1 1277.6,738.9 1279.3,782.0 1281.0,773.3 1282.7,829.3 1284.5,782.0 1286.2,687.2 1287.9,629.1 1289.6,605.4 1291.3,627.0 1293.1,599.0 1294.8,631.3 1296.5,620.5 1298.2,661.4 1300.0,635.6 1301.7,620.5 1303.4,680.8 1305.1,743.2 1306.8,674.3 1308.6,618.3 1310.3,586.0 1312.0,829.3 1312.9,885.3 1314.6,812.1 1316.3,665.7 1318.0,704.5 1319.8,596.8 1321.5,702.3 1323.2,547.3 1324.9,635.6 1326.7,644.2 1328.4,687.2 1330.1,741.1 1331.8,661.4 1333.5,726.0 1335.3,648.5 1337.0,670.0 1338.7,825.0 1340.0,682.9 1341.7,698.3 1343.4,646.7 1345.2,635.9 1346.9,651.0 1348.6,681.1 1350.3,612.2 1352.1,476.6 1353.8,569.2 1355.5,635.9 1357.2,592.9 1358.9,603.6 1360.7,663.9 1362.4,638.1 1364.1,616.5 1365.8,534.7 1367.6,612.2 1369.3,698.3 1371.0,827.5 1372.7,986.8 1374.4,913.6 1376.2,917.9 1377.9,719.9 1379.6,717.7 1381.3,913.6 1383.1,715.6 1384.8,564.9 1386.5,741.4 1388.2,806.0 1389.9,831.8 1391.7,1004.0 1393.4,913.6 1395.1,954.5 1396.8,827.5 1398.6,935.2 1400.3,892.1 1402.0,870.6 1403.7,849.0 1405.4,814.6 1407.2,773.7 1408.9,896.4 1410.6,814.6 1412.3,711.3 1414.1,754.3 1415.8,905.0 1417.5,879.2 1419.2,853.3 1420.9,909.3 1422.7,1004.9 1424.4,913.6 1426.1,814.6 1427.8,741.4 1429.6,818.9 1431.3,939.5 1433.0,870.6 1434.7,741.4 1436.4,741.4 1438.2,758.6 1439.9,784.5 1441.6,973.9 1443.3,870.6 1445.1,840.4 1446.8,775.8 1448.5,719.9 1450.2,651.0 1451.9,741.4 1453.7,646.7 1455.4,577.8 1457.1,745.7 1458.8,655.3 1460.6,586.4 1462.3,655.3 1464.0,627.3 1465.7,646.7 1467.4,625.1 1469.2,569.2 1470.9,541.2 1472.6,539.0 1474.3,586.4 1476.1,616.5 1477.8,586.4 1479.5,468.0 1481.2,551.9 1482.9,633.8 1484.7,595.0 1486.4,564.9 1488.1,558.4 1489.8,556.3 1491.6,719.9 1493.3,724.2 1495.0,586.4 1496.7,864.1 1498.4,741.4 1500.2,588.5 1501.9,625.1 1503.6,597.2 1505.3,646.7 1507.1,659.6 1508.8,646.7 1510.5,620.8 1512.2,590.7 1514.0,620.8 1515.7,676.8 1517.4,709.1 1519.1,633.8 1520.8,629.5 1522.6,689.7 1524.3,793.1 1526.0,715.6 1527.7,679.0 1529.5,771.5 1531.2,698.3 1532.9,642.4 1534.6,571.3 1536.3,539.0 1538.1,590.7 1539.8,599.3 1541.5,638.1 1543.2,698.3 1545.0,709.1 1546.7,655.3 1548.4,603.6 1550.1,612.2 1551.8,549.8 1553.6,638.1 1555.3,616.5 1557.0,715.6 1558.7,750.0 1560.5,767.2 1562.2,724.2 1563.9,698.3 1565.6,810.3 1567.3,864.1 1569.1,827.5 1570.8,795.2 1572.5,814.6 1574.2,771.5 1576.0,814.6 1577.7,719.9 1579.4,775.8 1581.1,741.4 1582.8,698.3 1584.6,676.8 1586.3,663.9 1588.0,648.8 1589.7,685.4 1591.5,724.2 1593.2,715.6 1594.9,707.0 1596.6,750.0 1598.3,719.9 1600.1,668.2 1601.8,663.9 1603.5,620.8 1605.2,545.5 1607.0,603.6 1608.7,651.0 1610.4,672.5 1612.1,663.9 1613.8,700.5 1615.6,694.0 1617.3,685.4 1619.0,741.4 1620.7,806.0 1622.5,762.9 1624.2,715.6 1625.9,698.3 1627.6,715.6 1629.3,625.1 1631.1,603.6 1632.8,676.8 1634.5,614.4 1636.2,644.5 1638.0,689.7 1639.7,642.4 1641.4,603.6 1643.1,575.6 1644.8,651.0 1646.6,659.6 1648.3,698.3 1650.0,814.6 1651.7,715.6 1653.5,741.4 1655.2,862.0 1656.9,806.0 1658.6,827.5 1660.3,767.2 1662.1,715.6 1663.8,713.4 1665.5,728.5 1667.2,707.0 1669.0,663.9 1670.7,642.4 1672.4,732.8 1674.1,754.3 1675.8,715.6 1677.6,741.4 1679.3,646.7 1681.0,614.4 1682.7,663.9 1684.5,681.1 1686.2,741.4 1687.9,818.9 1689.6,750.0 1691.3,855.5 1693.1,827.5 1694.8,806.0 1696.5,698.3 1698.2,685.4 1700.0,741.4 1701.7,687.6 1703.4,715.6 1705.1,810.3 1706.8,651.0 1708.6,681.1 1710.3,694.0 1712.0,844.7 1713.7,633.8 1715.5,698.3 1717.2,732.8 1718.9,767.2 1720.6,719.9 1722.3,827.5 1724.1,732.8 1725.8,702.6 1727.5,767.2 1729.2,877.0 1731.0,651.0 1732.7,715.6 1734.4,655.3 1736.1,659.6 1737.8,663.9 1740.0,642.4 1741.7,643.3 1743.3,693.3 1745.0,665.0 1746.7,730.0 1748.3,686.7 1750.0,690.0 1751.7,720.0 1753.3,710.0 1755.0,630.0 1756.7,633.3 1758.3,648.3 1760.0,636.7 1762.0,581.0 1764.0,626.7 1766.0,626.0 1768.0,686.7 1769.3,746.7 1771.0,663.3 1772.7,670.0 1774.3,666.7 1776.0,713.3 1777.7,753.3 1779.3,783.3 1781.0,740.0 1782.7,803.3 1784.3,820.0 1786.0,855.0 1787.7,820.0 1789.3,810.0 1791.0,736.7 1792.7,730.0 1794.3,820.0 1796.0,886.7 1797.7,833.3 1799.3,888.3 1800.7,901.7 1802.3,853.3 1804.0,810.0 1805.7,796.7 1807.3,753.3 1809.0,723.3 1810.7,683.3 1812.3,681.7 1814.0,733.3 1815.7,660.0 1817.3,614.0 1819.0,653.3 1820.7,620.0 1822.3,593.3 1824.0,566.7 1825.7,565.0 1827.3,603.3 1829.0,646.7 1830.7,703.3 1832.3,663.3 1834.0,720.0 1835.7,820.0 1837.3,866.7 1839.0,793.3 1840.7,846.7 1842.3,793.3 1844.0,755.0 1845.7,810.0 1847.3,776.7 1849.0,796.7 1850.7,775.0 1852.3,780.0 1854.0,720.0 1855.7,683.3 1857.3,736.7 1859.0,686.7 1860.7,653.3 1862.3,680.0 1864.0,645.0 1865.7,638.3 1867.3,711.7 1869.0,736.7 1870.7,786.7 1872.3,780.0 1874.0,753.3 1875.7,736.7 1877.3,786.7 1879.0,806.7 1880.7,836.7 1882.3,845.0 1884.0,763.3 1885.7,725.0 1887.3,760.0 1889.0,723.3 1890.7,721.7 1892.3,753.3 1894.0,736.7 1895.7,676.7 1897.3,673.3 1899.0,710.0 1900.7,670.0 1902.3,683.3 1904.0,710.0 1905.7,713.3 1907.3,686.7 1909.0,676.7 1910.7,666.7 1912.3,670.0 1914.0,753.3 1915.7,803.3 1917.3,770.0 1919.0,736.7 1920.7,766.7 1922.3,715.0 1924.0,753.3 1926.0,833.3 1927.7,773.3 1929.3,686.7 1931.0,626.7 1932.7,636.7 1934.3,616.7 1936.0,580.0 1937.3,538.3 1938.7,616.7 1940.0,555.0 1941.7,623.3 1943.3,673.3 1944.7,573.3 1946.0,663.3 1947.3,726.7 1949.0,643.3 1950.7,703.3 1952.3,693.3 1954.0,721.7 1955.7,693.3 1957.3,676.7 1959.0,696.7 1960.7,711.7 1962.0,606.7 1963.7,546.7 1965.0,601.7 1966.7,580.0 1968.3,618.3 1970.0,630.0 1971.7,653.3 1973.3,685.0 1975.0,636.7 1976.3,603.3 1978.0,595.0 1979.3,620.0 1980.7,636.7 1982.3,670.0 1984.0,673.3 1985.7,746.7 1987.3,780.0 1988.7,818.3 1990.0,763.3 1991.7,680.0 1993.3,750.0 1994.7,683.3 1996.0,616.7 1997.3,693.3 1998.7,750.0 2000.0,686.7 2001.3,720.0 2002.7,680.0 2004.0,651.7 2005.3,768.3 2006.7,680.0 2008.0,720.0 2009.3,650.0 2010.7,726.7 2012.0,666.7 2013.3,706.7 2014.7,686.7 2016.0,733.3 2017.3,786.7 2018.7,866.7 2020.0,820.0 2021.3,793.3 2022.7,753.3 2024.0,736.7 2025.7,640.0 2027.3,638.3 2028.7,733.3 2030.0,720.0 2031.7,736.7 2033.3,758.3 2035.0,701.7 2036.7,700.0 2038.3,720.0 2040.0,670.0 2041.7,686.7 2043.3,656.7 2045.0,706.7 2046.7,793.3 2048.3,736.7 2050.0,693.3 2051.7,736.7 2053.3,696.7 2055.0,663.3 2056.7,616.7 2058.3,615.0 2060.0,595.0 2061.3,596.7 2063.0,636.7 2064.7,673.3 2066.3,666.7 2068.0,636.7 2069.7,676.7 2071.3,683.3 2073.0,740.0 2074.7,693.3 2076.3,750.0 2078.0,813.3 2079.7,770.0 2081.3,746.7 2083.0,786.7 2084.7,806.7 2086.3,770.0 2088.0,750.0 2089.7,733.3 2091.3,693.3 2093.0,653.3 2094.7,613.3 2096.0,606.0 2097.7,623.3 2099.3,686.7 2101.0,720.0 2102.7,680.0 2104.3,655.0 2106.0,753.3 2107.3,851.7 2108.7,780.0 2110.0,853.3 2111.7,895.0 2113.3,820.0 2115.0,746.7 2116.3,700.0 2117.7,753.3 2119.0,790.0 2120.3,653.3 2121.7,740.0 2123.3,786.7 2125.0,796.7 2126.7,815.0 2128.3,806.7 2130.0,810.0 2131.7,786.7 2133.3,730.0 2135.0,728.3 2136.7,753.3 2138.0,648.3 2139.3,706.7 2140.7,770.0 2142.0,763.3 2143.3,746.7 2144.7,735.0 2146.0,773.3 2147.3,796.7 2148.7,856.7 2150.0,920.0 2151.3,975.0 2152.7,886.7 2154.0,796.7 2155.3,778.3 2156.7,951.7 2158.0,913.3 2159.3,880.0"/>
<line x1="2165.5" x2="2165.5" y1="292" y2="1171" stroke="#333" stroke-width="1.6"/>
<line x1="2287" x2="2287" y1="292" y2="1171" stroke="#2fd595" stroke-width="4"/>
<g font-size="22.5" fill="#3b3f45"><text x="2194" y="299.8" textLength="43.7" lengthAdjust="spacingAndGlyphs">$1m</text><text x="2194" y="367.8" textLength="67.7" lengthAdjust="spacingAndGlyphs">$700k</text><text x="2194" y="432.0" textLength="68.3" lengthAdjust="spacingAndGlyphs">$500k</text><text x="2194" y="529.3" textLength="68.3" lengthAdjust="spacingAndGlyphs">$300k</text><text x="2194" y="606.6" textLength="67.7" lengthAdjust="spacingAndGlyphs">$200k</text><text x="2194" y="738.8" textLength="64.8" lengthAdjust="spacingAndGlyphs">$100k</text><text x="2194" y="806.8" textLength="52.3" lengthAdjust="spacingAndGlyphs">$70k</text><text x="2194" y="871.0" textLength="53.5" lengthAdjust="spacingAndGlyphs">$50k</text><text x="2194" y="968.3" textLength="53.5" lengthAdjust="spacingAndGlyphs">$30k</text><text x="2194" y="1045.6" textLength="53.1" lengthAdjust="spacingAndGlyphs">$20k</text><text x="2194" y="1177.8" textLength="50.4" lengthAdjust="spacingAndGlyphs">$10k</text></g>
<g font-size="22.5" fill="#3b3f45"><text x="2310.0" y="314.0" textLength="33.2" lengthAdjust="spacingAndGlyphs">0.2</text><text x="2310.0" y="388.5" textLength="43.8" lengthAdjust="spacingAndGlyphs">0.15</text><text x="2310.0" y="463.0" textLength="28.8" lengthAdjust="spacingAndGlyphs">0.1</text><text x="2310.0" y="537.5" textLength="47.9" lengthAdjust="spacingAndGlyphs">0.05</text><text x="2310.0" y="612.0" textLength="15.0" lengthAdjust="spacingAndGlyphs">0</text><text x="2310.0" y="686.5" textLength="57.8" lengthAdjust="spacingAndGlyphs">-0.05</text><text x="2310.0" y="761.0" textLength="38.2" lengthAdjust="spacingAndGlyphs">-0.1</text><text x="2310.0" y="835.5" textLength="52.9" lengthAdjust="spacingAndGlyphs">-0.15</text><text x="2310.0" y="910.0" textLength="42.4" lengthAdjust="spacingAndGlyphs">-0.2</text><text x="2310.0" y="984.5" textLength="56.8" lengthAdjust="spacingAndGlyphs">-0.25</text><text x="2310.0" y="1059.0" textLength="42.8" lengthAdjust="spacingAndGlyphs">-0.3</text><text x="2310.0" y="1133.5" textLength="57.2" lengthAdjust="spacingAndGlyphs">-0.35</text></g>
<g font-size="25.3" fill="#3b3f45"><text x="260" y="1224" text-anchor="middle">May '21</text><text x="382" y="1224" text-anchor="middle">Aug '21</text><text x="504" y="1224" text-anchor="middle">Nov '21</text><text x="626" y="1224" text-anchor="middle">Feb '22</text><text x="743" y="1224" text-anchor="middle">May '22</text><text x="865" y="1224" text-anchor="middle">Aug '22</text><text x="987" y="1224" text-anchor="middle">Nov '22</text><text x="1109" y="1224" text-anchor="middle">Feb '23</text><text x="1227" y="1224" text-anchor="middle">May '23</text><text x="1349" y="1224" text-anchor="middle">Aug '23</text><text x="1471" y="1224" text-anchor="middle">Nov '23</text><text x="1593" y="1224" text-anchor="middle">Feb '24</text><text x="1712" y="1224" text-anchor="middle">May '24</text><text x="1833" y="1224" text-anchor="middle">Aug '24</text><text x="1955" y="1224" text-anchor="middle">Nov '24</text><text x="2077" y="1224" text-anchor="middle">Feb '25</text></g>
<g opacity="0.072"><text y="783" font-size="240" fill="#000" stroke="#000" stroke-width="2.5" stroke-linejoin="round"><tspan x="708.4" textLength="156.5" lengthAdjust="spacingAndGlyphs">g</tspan><tspan x="859.5" textLength="53.8" lengthAdjust="spacingAndGlyphs">l</tspan><tspan x="923.3" textLength="130.5" lengthAdjust="spacingAndGlyphs">a</tspan><tspan x="1074.3" textLength="107.2" lengthAdjust="spacingAndGlyphs">s</tspan><tspan x="1178.7" textLength="100.3" lengthAdjust="spacingAndGlyphs">s</tspan><tspan x="1278.0" textLength="144.7" lengthAdjust="spacingAndGlyphs">n</tspan><tspan x="1423.6" textLength="140.8" lengthAdjust="spacingAndGlyphs">o</tspan><tspan x="1571.6" textLength="140.4" lengthAdjust="spacingAndGlyphs">d</tspan><tspan x="1710.6" textLength="139.3" lengthAdjust="spacingAndGlyphs">e</tspan></text></g>
<text x="63" y="1376" font-size="30.5" fill="#808080" textLength="574" lengthAdjust="spacingAndGlyphs">© 2025 Glassnode. All Rights Reserved.</text>
<text y="1385" font-size="66" fill="#dcdcdc" stroke="#dcdcdc" stroke-width="1" stroke-linejoin="round"><tspan x="2175.8" textLength="44.2" lengthAdjust="spacingAndGlyphs">g</tspan><tspan x="2220.5" textLength="13.2" lengthAdjust="spacingAndGlyphs">l</tspan><tspan x="2235.0" textLength="37.0" lengthAdjust="spacingAndGlyphs">a</tspan><tspan x="2278.3" textLength="29.3" lengthAdjust="spacingAndGlyphs">s</tspan><tspan x="2307.3" textLength="27.5" lengthAdjust="spacingAndGlyphs">s</tspan><tspan x="2335.4" textLength="39.6" lengthAdjust="spacingAndGlyphs">n</tspan><tspan x="2376.3" textLength="38.4" lengthAdjust="spacingAndGlyphs">o</tspan><tspan x="2417.7" textLength="38.4" lengthAdjust="spacingAndGlyphs">d</tspan><tspan x="2456.8" textLength="37.7" lengthAdjust="spacingAndGlyphs">e</tspan></text>
</svg>
</body></html>
